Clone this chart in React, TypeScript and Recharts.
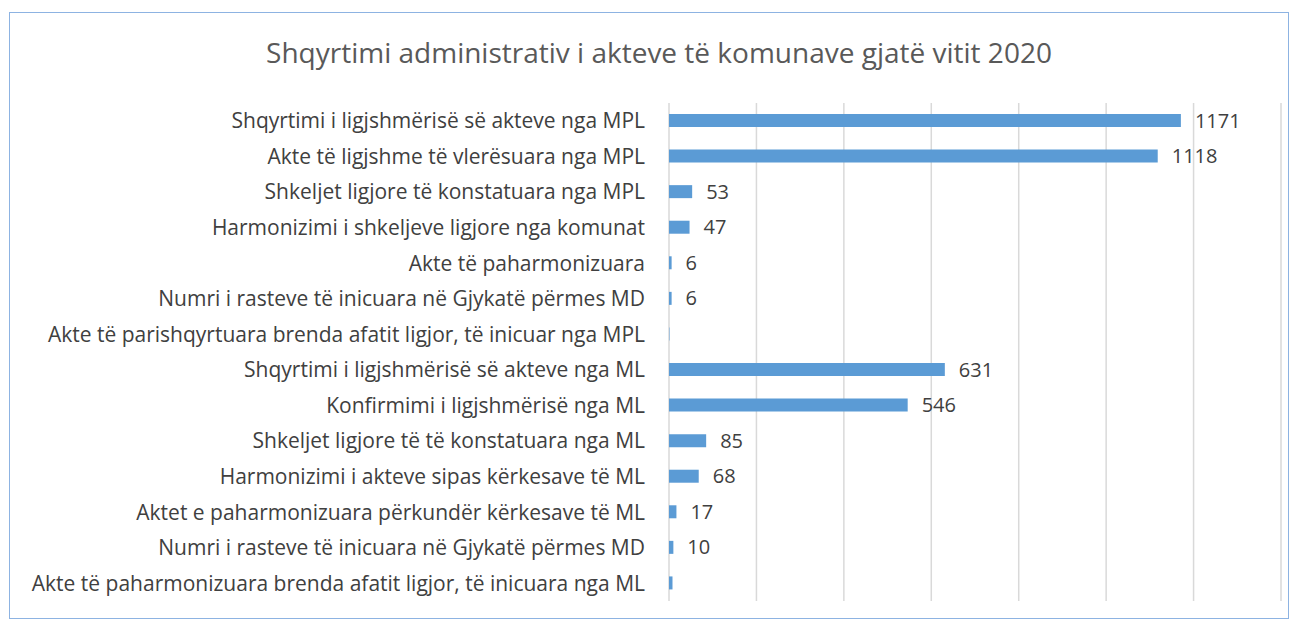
import { BarChart, Bar, XAxis, YAxis, CartesianGrid, LabelList } from 'recharts'

const categories = [
  'Shqyrtimi i ligjshmërisë së akteve nga MPL',
  'Akte të ligjshme të vlerësuara nga MPL',
  'Shkeljet ligjore të konstatuara nga MPL',
  'Harmonizimi i shkeljeve ligjore nga komunat',
  'Akte të paharmonizuara',
  'Numri i rasteve të inicuara në Gjykatë përmes MD',
  'Akte të parishqyrtuara brenda afatit ligjor, të inicuar nga MPL',
  'Shqyrtimi i ligjshmërisë së akteve nga ML',
  'Konfirmimi i ligjshmërisë nga ML',
  'Shkeljet ligjore të të konstatuara nga ML',
  'Harmonizimi i akteve sipas kërkesave të ML',
  'Aktet e paharmonizuara përkundër kërkesave të ML',
  'Numri i rasteve të inicuara në Gjykatë përmes MD',
  'Akte të  paharmonizuara brenda afatit ligjor, të inicuara nga ML',
]

const values = [1171, 1118, 53, 47, 6, 6, 1, 631, 546, 85, 68, 17, 10, 8]
// labels as printed on the original; two rows carry none
const valueLabels = ['1171', '1118', '53', '47', '6', '6', '', '631', '546', '85', '68', '17', '10', '']
const xTicks = [0, 200, 400, 600, 800, 1000, 1200, 1400]

const data = categories.map((name, i) => ({ name, value: values[i], label: valueLabels[i] }))

const font = '"Open Sans", "Noto Sans", sans-serif'

export default function App() {
  return (
    <div style={{ position: 'absolute', left: 0, top: 0, width: 1298, height: 624, background: '#fff', fontFamily: font }}>
      <div
        style={{
          position: 'absolute',
          left: 9,
          top: 12,
          width: 1280,
          height: 607,
          border: '1px solid #8DB3E2',
          boxSizing: 'border-box',
        }}
      />
      <div
        style={{
          position: 'absolute',
          left: 0,
          width: 1318,
          top: 32,
          lineHeight: '40px',
          textAlign: 'center',
          fontSize: 28,
          color: '#595959',
        }}
      >
        Shqyrtimi administrativ i akteve të komunave gjatë vitit 2020
      </div>
      <div style={{ position: 'absolute', left: 0, top: 0 }}>
        <BarChart
          width={1298}
          height={624}
          data={data}
          layout="vertical"
          margin={{ top: 103, right: 17, bottom: 23, left: 0 }}
          barCategoryGap={0}
        >
          <CartesianGrid horizontal={false} vertical stroke="#D9D9D9" strokeWidth={1.5} />
          <XAxis type="number" domain={[0, 1400]} ticks={xTicks} hide />
          <YAxis
            type="category"
            dataKey="name"
            width={669}
            axisLine={false}
            tickLine={false}
            tickSize={6}
            tickMargin={18}
            interval={0}
            tick={{ fontSize: 21, fill: '#404040', fontFamily: font, style: { whiteSpace: 'pre' } }}
          />
          <Bar dataKey="value" fill="#5B9BD5" barSize={13} isAnimationActive={false}>
            <LabelList
              dataKey="label"
              position="right"
              offset={14}
              style={{ fontSize: 20, fill: '#404040', fontFamily: font }}
            />
          </Bar>
        </BarChart>
      </div>
    </div>
  )
}
